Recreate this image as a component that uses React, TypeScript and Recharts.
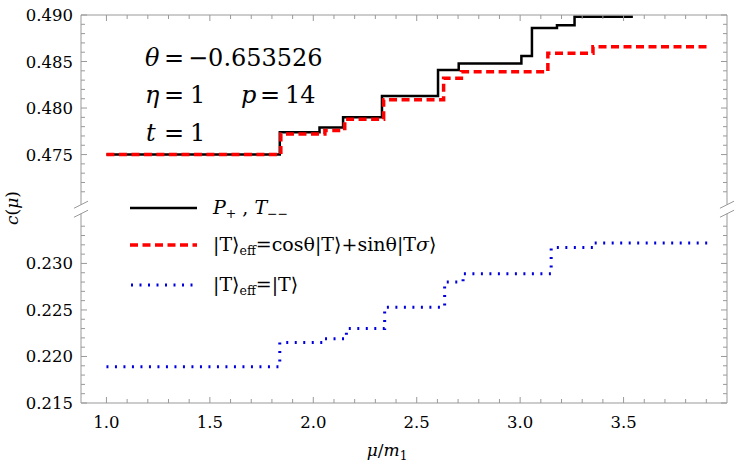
import { Line, LineChart, ReferenceLine, XAxis, YAxis } from "recharts";

// step positions (mu/m1) and central charge
const blackX = [1.0, 1.838, 2.03, 2.144, 2.332, 2.603, 2.703, 3.006, 3.057, 3.178, 3.263, 3.545];
const blackC = [0.475, 0.4774, 0.4779, 0.479, 0.4813, 0.4841, 0.4848, 0.4856, 0.4886, 0.4889, 0.4898, 0.4898];

const redX = [1.0, 1.843, 2.056, 2.152, 2.34, 2.63, 2.716, 3.134, 3.352, 3.915];
const redC = [0.475, 0.4772, 0.4776, 0.4788, 0.4809, 0.4832, 0.4839, 0.4859, 0.4866, 0.4866];

const blueX = [1.0, 1.838, 2.05, 2.16, 2.345, 2.635, 2.724, 3.15, 3.352, 3.924];
const blueC = [0.2189, 0.2215, 0.2219, 0.223, 0.2253, 0.228, 0.2289, 0.2317, 0.2322, 0.2322];

const xMajor = [1.0, 1.5, 2.0, 2.5, 3.0, 3.5];
const xTicks = [
  1.0, 1.1, 1.2, 1.3, 1.4, 1.5, 1.6, 1.7, 1.8, 1.9, 2.0, 2.1, 2.2, 2.3, 2.4,
  2.5, 2.6, 2.7, 2.8, 2.9, 3.0, 3.1, 3.2, 3.3, 3.4, 3.5, 3.6, 3.7, 3.8, 3.9,
];
const yLowerTicks = [
  0.215, 0.216, 0.217, 0.218, 0.219, 0.22, 0.221, 0.222, 0.223, 0.224,
  0.225, 0.226, 0.227, 0.228, 0.229, 0.23, 0.231, 0.232, 0.233, 0.234,
];
const yUpperTicks = [
  0.471, 0.472, 0.473, 0.474, 0.475, 0.476, 0.477, 0.478, 0.479, 0.48,
  0.481, 0.482, 0.483, 0.484, 0.485, 0.486, 0.487, 0.488, 0.489, 0.49,
];

// broken axis: upper band is shifted down by OFFSET
const OFFSET = 0.2333;
const X_MIN = 0.877;
const X_MAX = 4.0;
const Y_MIN = 0.215;
const Y_MAX = 0.49 - OFFSET;
const BREAK_LO = 0.23534;
const BREAK_HI = 0.23631;
const SPLIT = 0.2358;

const FRAME = "#999999";
const SERIF = "DejaVu Serif";

const toDisplay = (c: number) => (c > 0.3 ? c - OFFSET : c);
const toReal = (d: number) => (d > SPLIT ? d + OFFSET : d);

const build = (xs: number[], cs: number[]) => xs.map((x, i) => ({ x, y: toDisplay(cs[i]) }));
const blackData = build(blackX, blackC);
const redData = build(redX, redC);
const blueData = build(blueX, blueC);
const yTicks = [...yLowerTicks, ...yUpperTicks].map(toDisplay);

const isXMajor = (v: number) => xMajor.some((m) => Math.abs(m - v) < 1e-6);
const isYMajor = (r: number) => Math.abs(r * 200 - Math.round(r * 200)) < 1e-6;

function BottomTick({ x, y, payload }: any) {
  const major = isXMajor(payload.value);
  return (
    <g>
      <line x1={x} x2={x} y1={y} y2={y - (major ? 6 : 4)} stroke={FRAME} />
      {major && (
        <text x={x} y={y + 25} textAnchor="middle" fontFamily={SERIF} fontSize={16.5} fill="#000">
          {payload.value.toFixed(1)}
        </text>
      )}
    </g>
  );
}

function TopTick({ x, y, payload }: any) {
  const major = isXMajor(payload.value);
  return <line x1={x} x2={x} y1={y} y2={y + (major ? 6 : 4)} stroke={FRAME} />;
}

function LeftTick({ x, y, payload }: any) {
  const real = toReal(payload.value);
  const major = isYMajor(real);
  return (
    <g>
      <line x1={x} x2={x + (major ? 6 : 4)} y1={y} y2={y} stroke={FRAME} />
      {major && (
        <text x={x - 8} y={y + 6} textAnchor="end" fontFamily={SERIF} fontSize={16.5} fill="#000">
          {real.toFixed(3)}
        </text>
      )}
    </g>
  );
}

function RightTick({ x, y, payload }: any) {
  const major = isYMajor(toReal(payload.value));
  return <line x1={x} x2={x - (major ? 6 : 4)} y1={y} y2={y} stroke={FRAME} />;
}

const bx = 0.034;
const by = 0.00038;

function sideSegments(xv: number) {
  return [
    <ReferenceLine key={`lo${xv}`} segment={[{ x: xv, y: Y_MIN }, { x: xv, y: BREAK_LO }]} stroke={FRAME} ifOverflow="visible" />,
    <ReferenceLine key={`hi${xv}`} segment={[{ x: xv, y: BREAK_HI }, { x: xv, y: Y_MAX }]} stroke={FRAME} ifOverflow="visible" />,
    <ReferenceLine key={`b1${xv}`} segment={[{ x: xv - bx, y: BREAK_LO - by }, { x: xv + bx, y: BREAK_LO + by }]} stroke={FRAME} ifOverflow="visible" />,
    <ReferenceLine key={`b2${xv}`} segment={[{ x: xv - bx, y: BREAK_HI - by }, { x: xv + bx, y: BREAK_HI + by }]} stroke={FRAME} ifOverflow="visible" />,
  ];
}

function Overlay() {
  return (
    <svg width={747} height={471} style={{ position: "absolute", left: 0, top: 0, pointerEvents: "none" }}>
      {/* parameters */}
      <g fill="#000" fontFamily={SERIF} fontSize={24}>
        <text y={66}>
          <tspan x={145} fontStyle="italic">θ</tspan>
          <tspan x={164}>=</tspan>
          <tspan x={188}>−0.653526</tspan>
        </text>
        <text y={103}>
          <tspan x={145} fontStyle="italic">η</tspan>
          <tspan x={164}>=</tspan>
          <tspan x={190}>1</tspan>
          <tspan x={241} fontStyle="italic">p</tspan>
          <tspan x={260}>=</tspan>
          <tspan x={285}>14</tspan>
        </text>
        <text y={141}>
          <tspan x={146} fontStyle="italic">t</tspan>
          <tspan x={164}>=</tspan>
          <tspan x={190}>1</tspan>
        </text>
      </g>

      {/* legend */}
      <line x1={130} x2={197} y1={208} y2={208} stroke="#000" strokeWidth={2.5} />
      <line x1={130} x2={197} y1={245} y2={245} stroke="#ff0000" strokeWidth={3.5} strokeDasharray="8 4.5" />
      <line x1={131} x2={197} y1={285} y2={285} stroke="#0000dd" strokeWidth={3} strokeDasharray="2 6.5" />
      <g fill="#000" fontFamily={SERIF} fontSize={19}>
        <text x={213} y={214}>
          <tspan fontStyle="italic">P</tspan>
          <tspan fontSize={12.5} dy={4}>+</tspan>
          <tspan dy={-4}> , </tspan>
          <tspan fontStyle="italic">T</tspan>
          <tspan fontSize={12.5} dy={4}>−−</tspan>
        </text>
        <text x={213} y={251}>
          <tspan>|T⟩</tspan>
          <tspan fontSize={12.5} dy={4}>eff</tspan>
          <tspan dy={-4}>=cosθ|T⟩+sinθ|T</tspan>
          <tspan fontStyle="italic">σ</tspan>
          <tspan>⟩</tspan>
        </text>
        <text x={213} y={291}>
          <tspan>|T⟩</tspan>
          <tspan fontSize={12.5} dy={4}>eff</tspan>
          <tspan dy={-4}>=|T⟩</tspan>
        </text>
      </g>

      {/* axis titles */}
      <text fill="#000" fontFamily={SERIF} fontSize={17} x={387} y={456} textAnchor="middle">
        <tspan fontStyle="italic">μ</tspan>
        <tspan>/</tspan>
        <tspan fontStyle="italic">m</tspan>
        <tspan fontSize={12} dy={4}>1</tspan>
      </text>
      <text fill="#000" fontFamily={SERIF} fontSize={17} textAnchor="middle" transform="translate(18 208) rotate(-90)">
        <tspan fontStyle="italic">c</tspan>
        <tspan>(</tspan>
        <tspan fontStyle="italic">μ</tspan>
        <tspan>)</tspan>
      </text>
    </svg>
  );
}

export default function App() {
  return (
    <div style={{ position: "absolute", left: 0, top: 0, width: 747, height: 471, background: "#fff" }}>
      <LineChart width={747} height={471} margin={{ top: 14, right: 19, bottom: 28, left: 11 }}>
        <XAxis
          type="number"
          dataKey="x"
          domain={[X_MIN, X_MAX]}
          ticks={xTicks}
          interval={0}
          allowDataOverflow
          height={40}
          tickSize={0}
          tickMargin={0}
          tickLine={false}
          axisLine={{ stroke: FRAME }}
          tick={<BottomTick />}
        />
        <XAxis
          xAxisId="top"
          orientation="top"
          type="number"
          dataKey="x"
          domain={[X_MIN, X_MAX]}
          ticks={xTicks}
          interval={0}
          allowDataOverflow
          height={1}
          tickSize={0}
          tickMargin={0}
          tickLine={false}
          axisLine={{ stroke: FRAME }}
          tick={<TopTick />}
        />
        <YAxis
          type="number"
          domain={[Y_MIN, Y_MAX]}
          ticks={yTicks}
          interval={0}
          allowDataOverflow
          width={70}
          tickSize={0}
          tickMargin={0}
          tickLine={false}
          axisLine={false}
          tick={<LeftTick />}
        />
        <YAxis
          yAxisId="right"
          orientation="right"
          type="number"
          domain={[Y_MIN, Y_MAX]}
          ticks={yTicks}
          interval={0}
          allowDataOverflow
          width={1}
          tickSize={0}
          tickMargin={0}
          tickLine={false}
          axisLine={false}
          tick={<RightTick />}
        />
        {sideSegments(X_MIN)}
        {sideSegments(X_MAX)}
        <Line data={blackData} dataKey="y" type="stepAfter" stroke="#000" strokeWidth={2.5} dot={false} isAnimationActive={false} />
        <Line data={redData} dataKey="y" type="stepAfter" stroke="#ff0000" strokeWidth={3.5} strokeDasharray="8 4.5" dot={false} isAnimationActive={false} />
        <Line data={blueData} dataKey="y" type="stepAfter" stroke="#0000dd" strokeWidth={3} strokeDasharray="2 6.5" dot={false} isAnimationActive={false} />
      </LineChart>
      <Overlay />
    </div>
  );
}
